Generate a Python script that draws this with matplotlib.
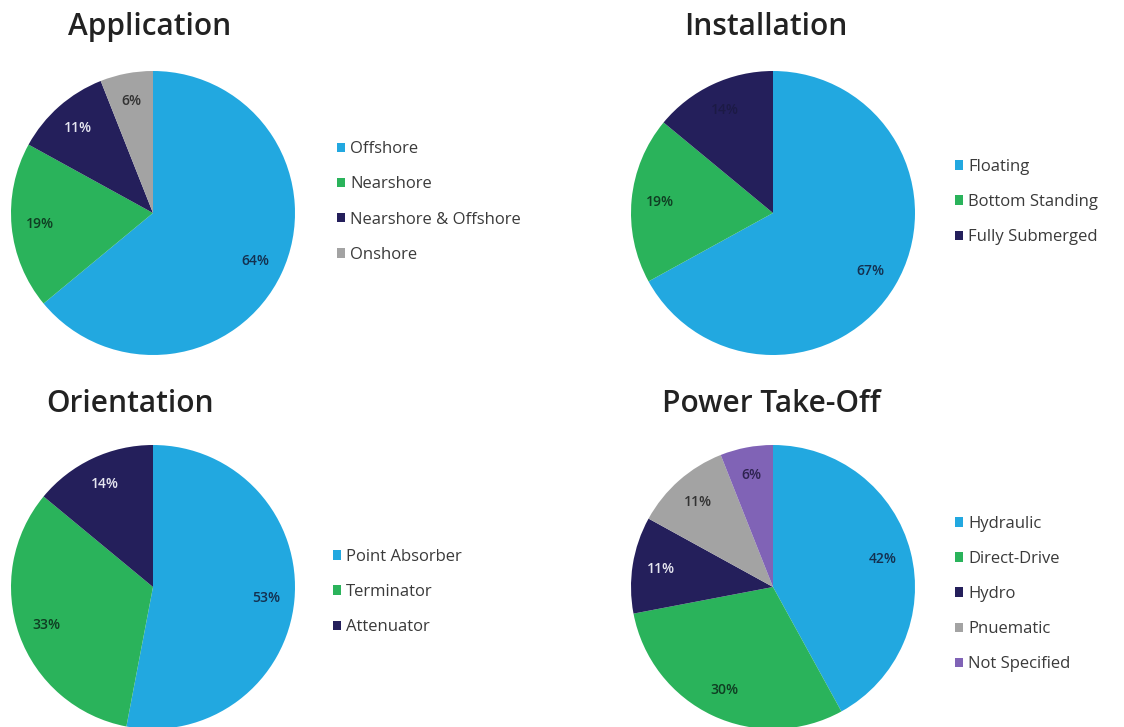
import matplotlib
matplotlib.use("Agg")
import matplotlib.pyplot as plt

plt.rcParams['font.family'] = ['Open Sans', 'DejaVu Sans']

# slice colours shared by all four charts
BLUE = '#22a8e0'
GREEN = '#2ab35b'
NAVY = '#241f5b'
GREY = '#a3a3a3'
PURPLE = '#8063b6'

app_labels = ['Offshore', 'Nearshore', 'Nearshore & Offshore', 'Onshore']
app_values = [64, 19, 11, 6]

inst_labels = ['Floating', 'Bottom Standing', 'Fully Submerged']
inst_values = [67, 19, 14]

orient_labels = ['Point Absorber', 'Terminator', 'Attenuator']
orient_values = [53, 33, 14]

pto_labels = ['Hydraulic', 'Direct-Drive', 'Hydro', 'Pnuematic', 'Not Specified']
pto_values = [42, 30, 11, 11, 6]

W, H = 1124, 727
fig = plt.figure(figsize=(W / 100, H / 100), dpi=100)
fig.patch.set_facecolor('white')


def px_axes(cx, cy, r):
    # axes box around a pie centred at (cx, cy) pixels from the top-left
    return fig.add_axes([(cx - r) / W, (H - cy - r) / H, 2 * r / W, 2 * r / H])


def draw_pie(cx, cy, values, labels, colors, txt_colors, title, tx, ty, lx, ly):
    r = 142
    ax = px_axes(cx, cy, r)
    wedges, texts, autotexts = ax.pie(
        values, colors=colors, startangle=90, counterclock=False,
        autopct=lambda p: '%.0f%%' % p, pctdistance=0.8, radius=1.0,
        wedgeprops=dict(linewidth=0),
        textprops=dict(fontsize=10, fontweight='semibold'))
    for t, c in zip(autotexts, txt_colors):
        t.set_color(c)
    ax.set_xlim(-1, 1)
    ax.set_ylim(-1, 1)
    ax.set_aspect('equal')
    for w in wedges:
        w.set_clip_on(False)

    fig.text(tx / W, 1 - ty / H, title, ha='center', va='center',
             fontsize=21.5, fontweight='semibold', color='#222222')

    leg = fig.legend(wedges, labels, loc='center left',
                     bbox_to_anchor=(lx / W, 1 - ly / H),
                     bbox_transform=fig.transFigure,
                     frameon=False, fontsize=12, handlelength=0.5,
                     handleheight=0.5, handletextpad=0.3,
                     labelspacing=1.15, borderpad=0, borderaxespad=0)
    for t in leg.get_texts():
        t.set_color('#3a3a3a')


draw_pie(153, 213, app_values, app_labels,
         [BLUE, GREEN, NAVY, GREY],
         ['#14304f', '#0f3d22', '#e6e6f0', '#333333'],
         'Application', 150, 27, 337, 202)

draw_pie(773, 213, inst_values, inst_labels,
         [BLUE, GREEN, NAVY],
         ['#14304f', '#0f3d22', '#1c1a45'],
         'Installation', 766, 27, 955, 202)

draw_pie(153, 587, orient_values, orient_labels,
         [BLUE, GREEN, NAVY],
         ['#14304f', '#0f3d22', '#e6e6f0'],
         'Orientation', 130, 404, 333, 592)

draw_pie(773, 587, pto_values, pto_labels,
         [BLUE, GREEN, NAVY, GREY, PURPLE],
         ['#14304f', '#0f3d22', '#e6e6f0', '#333333', '#2e2350'],
         'Power Take-Off', 771, 404, 955, 594)

fig.savefig('out.png', dpi=100, facecolor='white')
